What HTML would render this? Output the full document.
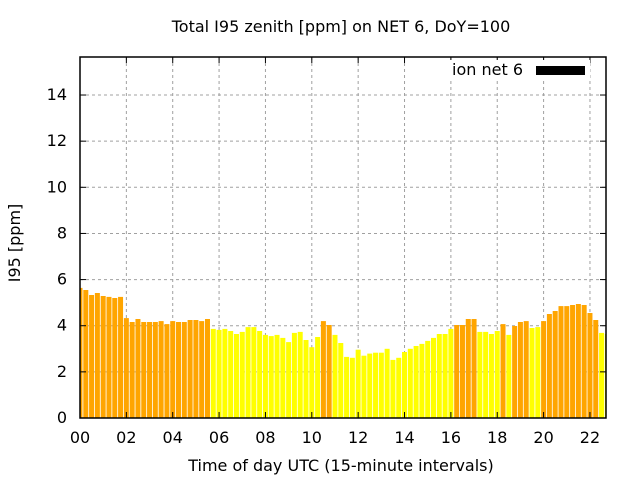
<!DOCTYPE html>
<html><head><meta charset="utf-8"><style>
html,body{margin:0;padding:0;background:#fff;}
svg text{font-family:"DejaVu Sans","Liberation Sans",sans-serif;font-size:16px;fill:#000;}
</style></head><body>
<svg id="s" width="640" height="480" xmlns="http://www.w3.org/2000/svg">
<defs><clipPath id="c"><rect x="80" y="57" width="526" height="361"/></clipPath></defs>
<g id="grid" stroke="#a0a0a0" stroke-width="1" stroke-dasharray="3,3"></g>
<g id="bars" clip-path="url(#c)"></g>
<rect x="80" y="57" width="526" height="361" fill="none" stroke="#000" stroke-width="1.5"/>
<g id="ticks" stroke="#000" stroke-width="1"></g>
<g id="lab"></g>
<text x="341" y="32" text-anchor="middle">Total I95 zenith [ppm] on NET 6, DoY=100</text>
<text x="341" y="471" text-anchor="middle">Time of day UTC (15-minute intervals)</text>
<text transform="translate(20,243) rotate(-90)" text-anchor="middle">I95 [ppm]</text>
<rect x="445" y="60" width="145" height="20" fill="#fff"/>
<text x="523" y="75" text-anchor="end">ion net 6</text>
<rect x="536" y="66" width="49" height="9" fill="#000"/>
</svg>
<script>
var v=[5.64,5.55,5.33,5.42,5.29,5.25,5.20,5.25,4.33,4.16,4.29,4.16,4.16,4.16,4.20,4.07,4.20,4.16,4.16,4.25,4.25,4.20,4.29,
3.86,3.82,3.86,3.77,3.64,3.73,3.94,3.94,3.77,3.60,3.55,3.60,3.47,3.29,3.69,3.73,3.38,3.07,3.51,
4.20,4.03,3.60,3.25,2.65,2.61,2.96,2.70,2.79,2.83,2.83,3.0,2.52,2.61,2.86,3.0,3.12,3.21,3.34,3.47,3.64,3.64,3.86,
4.03,4.03,4.29,4.29,3.73,3.73,3.64,3.77,4.07,3.60,3.99,4.16,4.20,3.90,3.94,4.20,4.51,4.64,4.85,4.85,4.90,4.94,4.90,4.55,4.25,3.69,3.64];
var orange={};[0,1,2,3,4,5,6,7,8,9,10,11,12,13,14,15,16,17,18,19,20,21,22,42,43,65,66,67,68,73,75,76,77,80,81,82,83,84,85,86,87,88,89].forEach(function(i){orange[i]=1;});
var h="";
for(var i=0;i<v.length;i++){var x=80+i*5.795-2.5,t=418-v[i]*23.07;
h+='<rect x="'+x.toFixed(2)+'" y="'+t.toFixed(1)+'" width="5" height="'+(418-t).toFixed(1)+'" fill="'+(orange[i]?'#ffa500':'#ffff00')+'"/>';}
document.getElementById('bars').innerHTML=h;
var g="",tk="",lb="";
for(var k=0;k<=7;k++){var y=418-k*2*23.07;
if(k>0)g+='<line x1="80" x2="606" y1="'+y+'" y2="'+y+'"/>';
tk+='<line x1="80" x2="86" y1="'+y+'" y2="'+y+'"/><line x1="600" x2="606" y1="'+y+'" y2="'+y+'"/>';
lb+='<text x="67" y="'+(y+5)+'" text-anchor="end">'+(k*2)+'</text>';}
for(var k=0;k<=11;k++){var x=80+k*2*23.18;
if(k>0)g+='<line y1="57" y2="418" x1="'+x+'" x2="'+x+'"/>';
tk+='<line y1="418" y2="412" x1="'+x+'" x2="'+x+'"/><line y1="57" y2="63" x1="'+x+'" x2="'+x+'"/>';
var s=(k*2<10?'0':'')+(k*2);
lb+='<text x="'+x+'" y="443" text-anchor="middle">'+s+'</text>';}
document.getElementById('grid').innerHTML=g;
document.getElementById('ticks').innerHTML=tk;
document.getElementById('lab').innerHTML=lb;
</script>
</body></html>
